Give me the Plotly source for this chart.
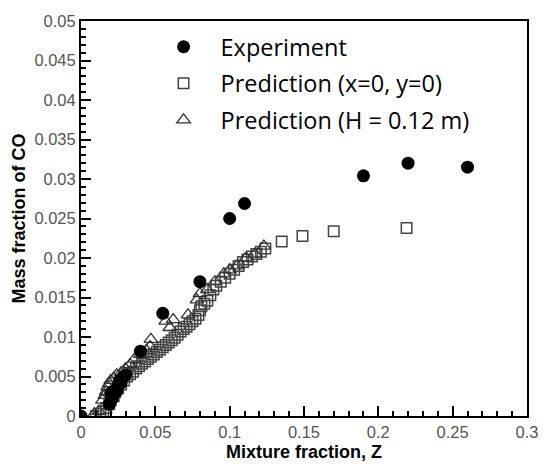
import plotly.graph_objects as go

# Experiment
exp_z = [0.0, 0.019, 0.020, 0.021, 0.022, 0.023, 0.024, 0.025, 0.026, 0.027, 0.028, 0.030, 0.040, 0.055, 0.080, 0.100, 0.110, 0.190, 0.220, 0.260]
exp_co = [0.0, 0.0015, 0.0029, 0.0022, 0.0028, 0.0033, 0.0031, 0.0038, 0.0045, 0.0042, 0.0049, 0.0052, 0.0082, 0.0130, 0.0170, 0.0250, 0.0269, 0.0304, 0.0320, 0.0315]

# Prediction (x=0, y=0)
pc_z = [0.010, 0.013, 0.015, 0.017, 0.019, 0.020, 0.022, 0.023, 0.025, 0.027, 0.029, 0.031, 0.033, 0.035,
        0.037, 0.039, 0.041, 0.043, 0.045, 0.047, 0.049, 0.051, 0.053, 0.055, 0.057, 0.059, 0.061, 0.063,
        0.065, 0.067, 0.069, 0.071, 0.073, 0.075, 0.077, 0.079, 0.080, 0.081, 0.083, 0.085, 0.087, 0.089,
        0.091, 0.094, 0.097, 0.100, 0.103, 0.106, 0.109, 0.112, 0.115, 0.118, 0.121, 0.124, 0.135, 0.149,
        0.170, 0.219]
pc_co = [0.0000, 0.0003, 0.0006, 0.0010, 0.0015, 0.0020, 0.0025, 0.0030, 0.0035, 0.0040, 0.0045, 0.0050, 0.0053, 0.0056,
         0.0060, 0.0063, 0.0066, 0.0069, 0.0072, 0.0075, 0.0078, 0.0081, 0.0084, 0.0087, 0.0090, 0.0093, 0.0096, 0.0099,
         0.0103, 0.0107, 0.0110, 0.0113, 0.0116, 0.0120, 0.0123, 0.0128, 0.0134, 0.0139, 0.0142, 0.0146, 0.0153, 0.0160,
         0.0165, 0.0170, 0.0175, 0.0180, 0.0185, 0.0190, 0.0195, 0.0198, 0.0202, 0.0205, 0.0208, 0.0212, 0.0221, 0.0228,
         0.0234, 0.0238]

# Prediction (H = 0.12 m)
ph_z = [0.009, 0.012, 0.0145, 0.016, 0.017, 0.018, 0.019, 0.020, 0.022, 0.024, 0.027, 0.030, 0.033, 0.036,
        0.040, 0.044, 0.0465, 0.047, 0.057, 0.0597, 0.062, 0.072, 0.078, 0.080, 0.085, 0.090, 0.096, 0.100,
        0.105, 0.111, 0.117, 0.123]
ph_co = [0.0003, 0.0006, 0.0020, 0.0026, 0.0031, 0.0037, 0.0041, 0.0045, 0.0048, 0.0052, 0.0055, 0.0060, 0.0065, 0.0072,
         0.0078, 0.0083, 0.0088, 0.0097, 0.0120, 0.0112, 0.0122, 0.0128, 0.0147, 0.0155, 0.0160, 0.0170, 0.0180, 0.0185,
         0.0190, 0.0200, 0.0205, 0.0215]

fig = go.Figure()
fig.add_trace(go.Scatter(x=pc_z, y=pc_co, mode="markers", name="Prediction (x=0, y=0)",
                         legendgroup="b", legendrank=2,
                         marker=dict(symbol="square-open", size=10.5, color="#444444", line=dict(width=1.5))))
fig.add_trace(go.Scatter(x=ph_z, y=ph_co, mode="markers", name="Prediction (H = 0.12 m)",
                         legendgroup="c", legendrank=3,
                         marker=dict(symbol="triangle-up-open", size=12, color="#333333", line=dict(width=1.3))))
fig.add_trace(go.Scatter(x=exp_z, y=exp_co, mode="markers", name="Experiment",
                         legendgroup="a", legendrank=1,
                         marker=dict(symbol="circle", size=13, color="black")))

axis_common = dict(
    showline=True, linewidth=2, linecolor="black", mirror=True,
    showgrid=False, zeroline=False,
    ticks="inside", ticklen=10, tickwidth=2, tickcolor="black",
    tickfont=dict(family="Liberation Sans, Arial", size=16.5, color="#555555"),
    minor=dict(ticks="inside", ticklen=5, tickwidth=1.5, tickcolor="black", showgrid=False),
)

fig.update_xaxes(range=[0, 0.3], dtick=0.05, tick0=0, minor_dtick=0.01,
                 title=dict(text="<b>Mixture fraction, Z</b>", standoff=6,
                            font=dict(family="Liberation Sans, Arial", size=18, color="black")),
                 **axis_common)
fig.update_yaxes(range=[0, 0.05], dtick=0.005, tick0=0, minor_dtick=0.001,
                 title=dict(text="<b>Mass fraction of CO</b>", standoff=4,
                            font=dict(family="Liberation Sans, Arial", size=18, color="black")),
                 **axis_common)

fig.update_layout(
    width=550, height=471,
    margin=dict(l=81, r=13, t=16, b=44),
    paper_bgcolor="white", plot_bgcolor="white",
    showlegend=True,
    legend=dict(x=0.147, y=0.99, xanchor="left", yanchor="top",
                bgcolor="rgba(0,0,0,0)", borderwidth=0,
                font=dict(family="Open Sans", size=23.5, color="black"),
                traceorder="grouped", tracegroupgap=3, itemwidth=64),
)

fig.write_html("out.html")
